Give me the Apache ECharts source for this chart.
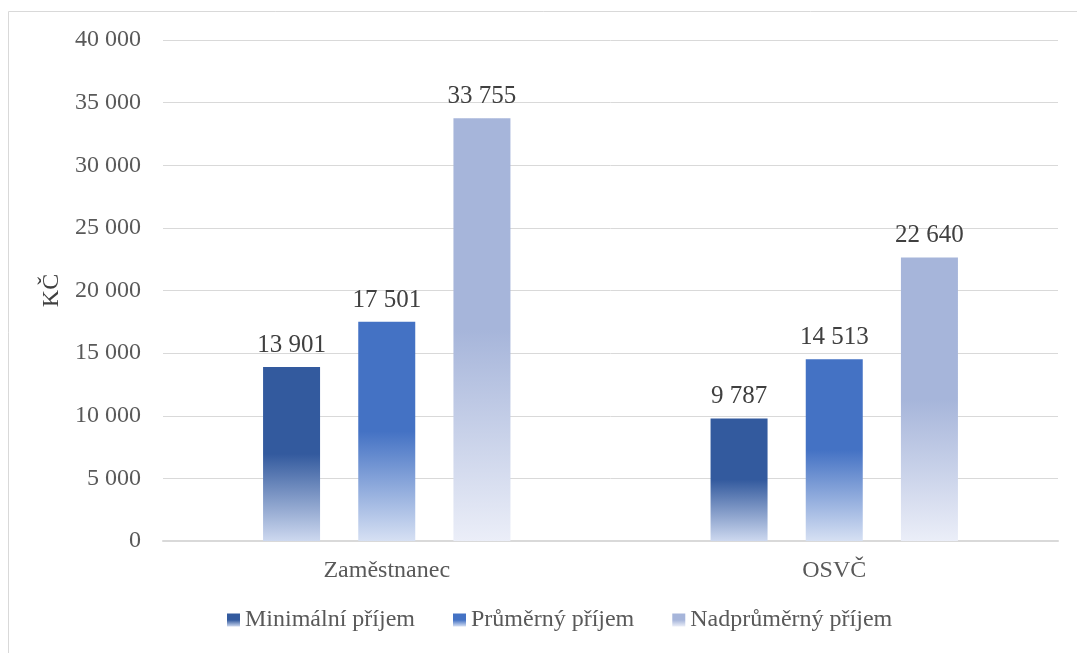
<!DOCTYPE html>
<html><head><meta charset="utf-8">
<script src="https://cdn.jsdelivr.net/npm/echarts@6/dist/echarts.min.js"></script>
<style>html,body{margin:0;padding:0;background:#fff}#c{width:1077px;height:653px}</style>
</head><body><div id="c"></div>
<script>
const categories = ['Zaměstnanec', 'OSVČ'];
const seriesNames = ['Minimální příjem', 'Průměrný příjem', 'Nadprůměrný příjem'];
const minimalni = [13901, 9787];
const prumerny = [17501, 14513];
const nadprumerny = [33755, 22640];
const yTicks = [0, 5000, 10000, 15000, 20000, 25000, 30000, 35000, 40000];

const topColors = ['#335A9E', '#4472C4', '#A6B5DA'];
const bottomColors = ['#CDD8EF', '#D6E0F3', '#EBEEF8'];
const fmt = v => String(Math.round(v)).replace(/\B(?=(\d{3})+(?!\d))/g, ' ');
const font = 'Liberation Serif';
const grad = i => new echarts.graphic.LinearGradient(0, 0, 0, 1, [
  {offset: 0, color: topColors[i]},
  {offset: 0.5, color: topColors[i]},
  {offset: 1, color: bottomColors[i]}
]);
const data = [minimalni, prumerny, nadprumerny];
const chart = echarts.init(document.getElementById('c'));
chart.setOption({
  animation: false,
  textStyle: {fontFamily: font},
  graphic: [{type: 'rect', shape: {x: 8.5, y: 11.5, width: 1200, height: 800}, style: {fill: 'none', stroke: '#D9D9D9', lineWidth: 1}, silent: true}],
  grid: {left: 163, right: 19, top: 40, bottom: 112},
  legend: {
    bottom: 16, left: 222, itemWidth: 13, itemHeight: 13, itemGap: 38,
    icon: 'rect',
    textStyle: {fontFamily: font, fontSize: 24, color: '#595959'},
    data: seriesNames
  },
  xAxis: {
    type: 'category', data: categories,
    axisLine: {lineStyle: {color: '#D9D9D9', width: 2}},
    axisTick: {show: false},
    axisLabel: {fontFamily: font, fontSize: 24, color: '#595959', margin: 18}
  },
  yAxis: {
    type: 'value', min: yTicks[0], max: yTicks[yTicks.length - 1], interval: 5000,
    name: 'KČ', nameLocation: 'middle', nameGap: 90, nameRotate: 90,
    nameTextStyle: {fontFamily: font, fontSize: 24, color: '#404040'},
    axisLine: {show: false}, axisTick: {show: false},
    splitLine: {lineStyle: {color: '#D9D9D9', width: 1}},
    axisLabel: {fontFamily: font, fontSize: 24, color: '#595959', margin: 22, formatter: fmt}
  },
  series: seriesNames.map((n, i) => ({
    name: n, type: 'bar', data: data[i], barWidth: 57, barGap: '67%',
    itemStyle: {color: grad(i)},
    label: {show: true, position: 'top', distance: 9, fontFamily: font, fontSize: 25, color: '#404040', formatter: p => fmt(p.value)}
  }))
});
</script></body></html>
